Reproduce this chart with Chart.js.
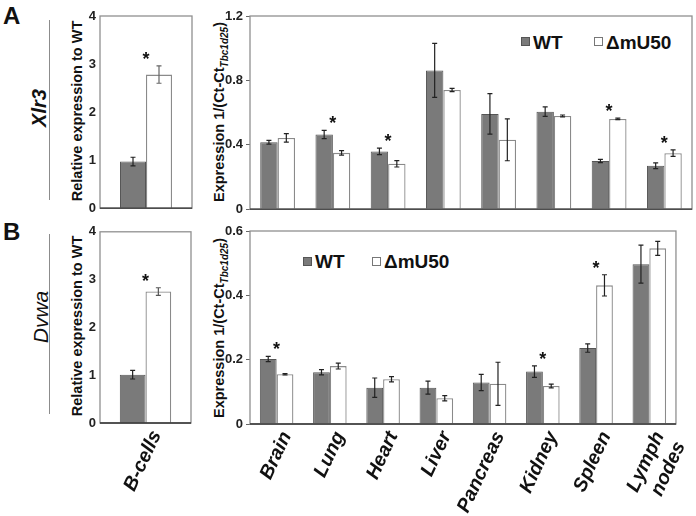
<!DOCTYPE html>
<html>
<head>
<meta charset="utf-8">
<script src="https://cdn.jsdelivr.net/npm/chart.js@4.4.0/dist/chart.umd.min.js"></script>
<style>
  body { margin: 0; background: #fff; width: 696px; height: 516px; position: relative; overflow: hidden;
         font-family: Arial, "Liberation Sans", sans-serif; color: #111; }
  canvas { position: absolute; }
  .t { position: absolute; white-space: nowrap; line-height: 1; }
  .rot { transform: translate(-50%, -50%) rotate(-90deg); }
  .vline { position: absolute; width: 1px; background: #8c8c8c; }
  .sq { position: absolute; width: 9px; height: 9px; box-sizing: border-box; }
  .sq.wt { background: #7a7a7a; border: 1px solid #555; }
  .sq.mu { background: #fff; border: 1px solid #777; }
  .leg { font-weight: bold; font-size: 19px; }
  .ytl { font-weight: bold; font-size: 14.5px; }
</style>
</head>
<body>
<div class="t" style="left:3px;top:4px;font-weight:bold;font-size:24px;">A</div>
<div class="t" style="left:3px;top:220px;font-weight:bold;font-size:24px;">B</div>
<div class="t rot" style="left:39px;top:108px;font-weight:bold;font-style:italic;font-size:20px;">Xlr3</div>
<div class="t rot" style="left:40px;top:317px;font-style:italic;font-size:21px;">Dvwa</div>
<div class="vline" style="left:49px;top:20px;height:180px;"></div>
<div class="vline" style="left:49px;top:234px;height:180px;"></div>

<div class="t rot ytl" style="left:77px;top:111px;">Relative expression to WT</div>
<div class="t rot ytl" style="left:77px;top:326px;">Relative expression to WT</div>
<div class="t rot ytl" style="left:221px;top:112px;">Expression 1/(Ct-Ct<sub style="font-size:10px;font-style:italic;">Tbc1d25</sub>)</div>
<div class="t rot ytl" style="left:221px;top:328px;">Expression 1/(Ct-Ct<sub style="font-size:10px;font-style:italic;">Tbc1d25</sub>)</div>

<div class="sq wt" style="left:521px;top:37px;"></div>
<div class="t leg" style="left:533px;top:33px;">WT</div>
<div class="sq mu" style="left:594px;top:37px;"></div>
<div class="t leg" style="left:606px;top:33px;">ΔmU50</div>

<div class="sq wt" style="left:303px;top:257px;"></div>
<div class="t leg" style="left:315px;top:252px;">WT</div>
<div class="sq mu" style="left:372px;top:257px;"></div>
<div class="t leg" style="left:384px;top:252px;">ΔmU50</div>

<canvas id="aLeft" width="140" height="220" style="left:60px;top:0px;"></canvas>
<canvas id="aRight" width="496" height="220" style="left:200px;top:0px;"></canvas>
<canvas id="bLeft" width="140" height="296" style="left:60px;top:220px;"></canvas>
<canvas id="bRight" width="496" height="296" style="left:200px;top:220px;"></canvas>

<script>
// categories
const organs = ["Brain", "Lung", "Heart", "Liver", "Pancreas", "Kidney", "Spleen", ["Lymph", "nodes"]];
const cells = ["B-cells"];

// A: Xlr3, B-cells relative to WT
const xlr3CellWt = [0.97], xlr3CellWtErr = [0.09];
const xlr3CellMu = [2.78], xlr3CellMuErr = [0.18];
const xlr3CellSig = [true];

// A: Xlr3, tissues
const xlr3Wt    = [0.416, 0.464, 0.359, 0.862, 0.592, 0.606, 0.299, 0.270];
const xlr3WtErr = [0.012, 0.026, 0.020, 0.168, 0.126, 0.030, 0.010, 0.018];
const xlr3Mu    = [0.443, 0.350, 0.282, 0.740, 0.431, 0.579, 0.561, 0.348];
const xlr3MuErr = [0.026, 0.014, 0.020, 0.010, 0.130, 0.006, 0.005, 0.020];
const xlr3Sig   = [false, true, true, false, false, false, true, true];

// B: Dvwa, B-cells relative to WT
const dvwaCellWt = [1.01], dvwaCellWtErr = [0.09];
const dvwaCellMu = [2.75], dvwaCellMuErr = [0.08];
const dvwaCellSig = [true];

// B: Dvwa, tissues
const dvwaWt    = [0.202, 0.161, 0.113, 0.113, 0.129, 0.163, 0.236, 0.497];
const dvwaWtErr = [0.008, 0.008, 0.030, 0.020, 0.025, 0.018, 0.013, 0.059];
const dvwaMu    = [0.155, 0.180, 0.139, 0.080, 0.125, 0.118, 0.431, 0.546];
const dvwaMuErr = [0.002, 0.009, 0.008, 0.008, 0.067, 0.006, 0.033, 0.022];
const dvwaSig   = [true, false, false, false, false, true, true, false];

// axis ticks
const cellTicks = { max: 4, step: 1 };
const xlr3Ticks = { max: 1.2, step: 0.4 };
const dvwaTicks = { max: 0.6, step: 0.2 };

const FONT = 'Arial, "Liberation Sans", sans-serif';

// error bars, significance stars and the grey frame
const extras = {
  id: "extras",
  afterDatasetsDraw(chart, args, opts) {
    const ctx = chart.ctx, a = chart.chartArea;
    const y = chart.scales.y, x = chart.scales.x;
    ctx.save();
    const tops = [];
    chart.data.datasets.forEach((ds, i) => {
      chart.getDatasetMeta(i).data.forEach((bar, j) => {
        const v = ds.data[j], e = ds.err[j];
        const y1 = y.getPixelForValue(v + e), y2 = y.getPixelForValue(v - e);
        tops[j] = Math.min(tops[j] === undefined ? 1e9 : tops[j], y1, bar.y);
        ctx.strokeStyle = ds.errColor;
        ctx.lineWidth = 1.2;
        ctx.beginPath();
        ctx.moveTo(bar.x, y1); ctx.lineTo(bar.x, y2);
        ctx.moveTo(bar.x - 2.5, y1); ctx.lineTo(bar.x + 2.5, y1);
        ctx.moveTo(bar.x - 2.5, y2); ctx.lineTo(bar.x + 2.5, y2);
        ctx.stroke();
      });
    });
    ctx.fillStyle = "#111";
    ctx.font = "bold 18px " + FONT;
    ctx.textAlign = "center";
    ctx.textBaseline = "alphabetic";
    opts.sig.forEach((s, j) => {
      if (s) ctx.fillText("*", x.getPixelForValue(j), tops[j] - 1);
    });
    // frame: grey box with a dark base line
    ctx.strokeStyle = "#909090";
    ctx.lineWidth = 1.3;
    ctx.strokeRect(a.left, a.top, a.right - a.left, a.bottom - a.top);
    ctx.strokeStyle = "#333";
    ctx.beginPath();
    ctx.moveTo(a.left, a.bottom); ctx.lineTo(a.right, a.bottom);
    ctx.stroke();
    ctx.restore();
  }
};

function makeChart(id, labels, wt, wtErr, mu, muErr, sig, ticks, opt) {
  return new Chart(document.getElementById(id), {
    type: "bar",
    data: {
      labels: labels,
      datasets: [
        { label: "WT", data: wt, err: wtErr, errColor: "#222",
          backgroundColor: "#7a7a7a", borderColor: "#555", borderWidth: 1 },
        { label: "\u0394mU50", data: mu, err: muErr, errColor: opt.muErrColor,
          backgroundColor: "#ffffff", borderColor: "#8a8a8a", borderWidth: 1.3 }
      ]
    },
    options: {
      responsive: false,
      animation: false,
      devicePixelRatio: 1,
      layout: { padding: opt.pad },
      datasets: { bar: { categoryPercentage: opt.cat, barPercentage: 1.0 } },
      plugins: { legend: { display: false }, tooltip: { enabled: false }, extras: { sig: sig } },
      scales: {
        x: {
          grid: { display: false, drawTicks: false },
          border: { display: false },
          ticks: {
            display: opt.showX,
            minRotation: 65, maxRotation: 65,
            labelOffset: opt.labelOffset,
            padding: 4,
            color: "#111",
            font: { family: FONT, size: 19.5, weight: "bold", style: "italic" }
          },
          afterFit: (s) => { s.height = opt.xh; }
        },
        y: {
          min: 0, max: ticks.max,
          grid: { display: opt.yTick > 0, drawOnChartArea: false, tickLength: opt.yTick, color: "#666" },
          border: { display: false },
          ticks: {
            stepSize: ticks.step,
            padding: opt.yPad,
            color: "#222",
            font: { family: FONT, size: 13, weight: "bold" },
            callback: (v) => +v.toFixed(1)
          },
          afterFit: (s) => { s.width = opt.yw; }
        }
      }
    },
    plugins: [extras]
  });
}

makeChart("aLeft", cells, xlr3CellWt, xlr3CellWtErr, xlr3CellMu, xlr3CellMuErr, xlr3CellSig, cellTicks,
  { pad: { left: 0, right: 8, top: 16, bottom: 11 }, cat: 0.565, showX: false, xh: 0, yw: 40, yTick: 0, yPad: 4, muErrColor: "#666", labelOffset: 0 });
makeChart("aRight", organs, xlr3Wt, xlr3WtErr, xlr3Mu, xlr3MuErr, xlr3Sig, xlr3Ticks,
  { pad: { left: 0, right: 4, top: 16, bottom: 10 }, cat: 0.63, showX: false, xh: 0, yw: 50, yTick: 4, yPad: 3, muErrColor: "#222", labelOffset: 0 });
makeChart("bLeft", cells, dvwaCellWt, dvwaCellWtErr, dvwaCellMu, dvwaCellMuErr, dvwaCellSig, cellTicks,
  { pad: { left: 0, right: 9, top: 11, bottom: 0 }, cat: 0.565, showX: true, xh: 93, yw: 40, yTick: 0, yPad: 4, muErrColor: "#555", labelOffset: 11 });
makeChart("bRight", organs, dvwaWt, dvwaWtErr, dvwaMu, dvwaMuErr, dvwaSig, dvwaTicks,
  { pad: { left: 0, right: 4, top: 11, bottom: 0 }, cat: 0.63, showX: true, xh: 92, yw: 50, yTick: 4, yPad: 3, muErrColor: "#222", labelOffset: 10 });
</script>
</body>
</html>
